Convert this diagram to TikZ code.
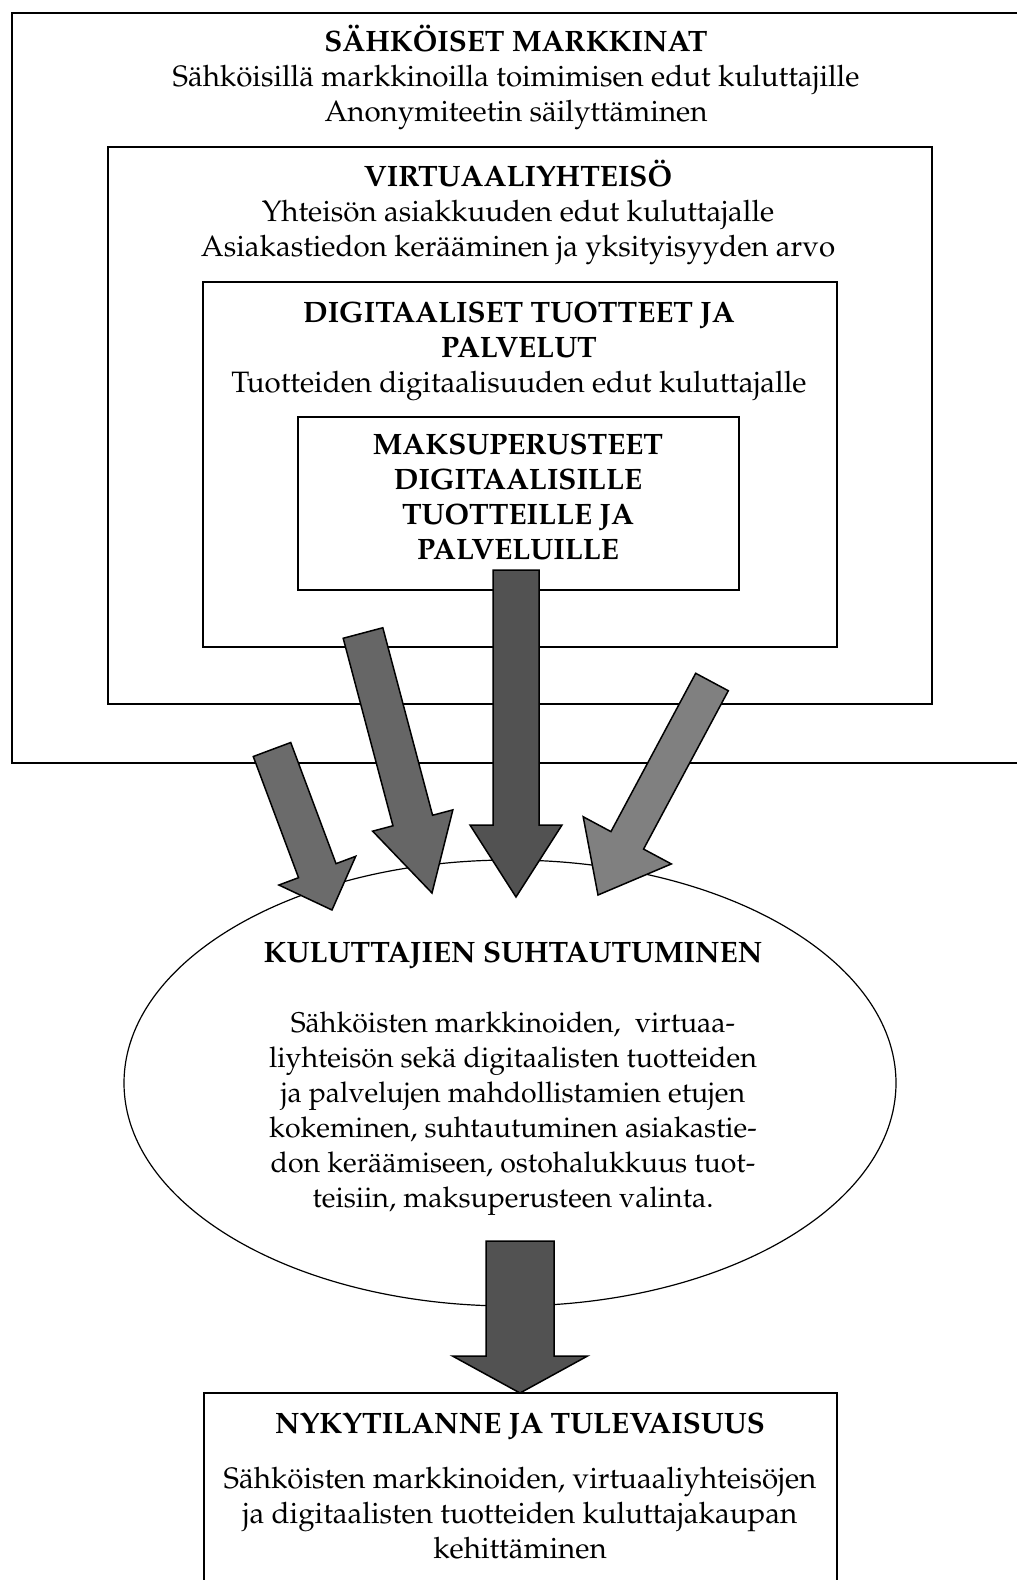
\documentclass[tikz,border=0pt]{standalone}
\usepackage[T1]{fontenc}
\usepackage{mathpazo}
\usetikzlibrary{calc,shapes.geometric}

% block arrow from tail to tip: #1 tail, #2 tip, #3 half shaft, #4 half head, #5 head length, #6 fill
\newcommand{\blockarr}[6]{%
  \coordinate (hb) at ($(#2)!#5!(#1)$);
  \draw[blk,fill=#6] ($(#1)!#3!90:(#2)$) -- ($(hb)!#3!-90:(#1)$) -- ($(hb)!#4!-90:(#1)$)
    -- (#2) -- ($(hb)!#4!90:(#1)$) -- ($(hb)!#3!90:(#1)$) -- ($(#1)!#3!-90:(#2)$) -- cycle;
}

\begin{document}
\begin{tikzpicture}[x=1pt,y=1pt]
\tikzstyle{frame}=[draw,line width=1.7pt,inner sep=0pt]
\tikzstyle{txt}=[inner sep=0pt,align=center,anchor=base,font=\fontsize{29.5}{35}\selectfont]
\tikzstyle{blk}=[draw,line width=1.5pt,line join=miter]
\useasboundingbox (0,0) rectangle (1017,-1580);

% nested boxes
\node[frame,minimum width=1028pt,minimum height=750pt] (markk) at (526,-388) {};
\node[frame,minimum width=824pt,minimum height=557pt] (virt) at (520,-425.5) {};
\node[frame,minimum width=634pt,minimum height=365pt] (digi) at (520,-464.5) {};
\node[frame,minimum width=441pt,minimum height=173pt] (maksu) at (518.5,-503.5) {};

\node[txt] (markkt) at (516,-121) {\textbf{SÄHKÖISET MARKKINAT}\\
  Sähköisillä markkinoilla toimimisen edut kuluttajille\\ Anonymiteetin säilyttäminen};
\node[txt] (virtt) at (518,-256) {\textbf{VIRTUAALIYHTEISÖ}\\
  Yhteisön asiakkuuden edut kuluttajalle\\ Asiakastiedon kerääminen ja yksityisyyden arvo};
\node[txt] (digit) at (519,-392) {\textbf{DIGITAALISET TUOTTEET JA}\\ \textbf{PALVELUT}\\
  Tuotteiden digitaalisuuden edut kuluttajalle};
\node[txt,font=\fontsize{29.5}{35}\selectfont\bfseries] (maksut) at (518,-559) {MAKSUPERUSTEET\\
  DIGITAALISILLE\\ TUOTTEILLE JA\\ PALVELUILLE};

% consumers
\node[draw,ellipse,line width=1.2pt,inner sep=0pt,minimum width=772pt,minimum height=446pt] (suht) at (510,-1083) {};
\node[txt,font=\fontsize{28.5}{35}\selectfont] (suhtt) at (513,-1207) {{\fontsize{29.5}{35}\selectfont\bfseries KULUTTAJIEN SUHTAUTUMINEN}\\[35pt]
  Sähköisten markkinoiden,\ \ virtuaa-\\ liyhteisön sekä digitaalisten tuotteiden\\
  ja palvelujen mahdollistamien etujen\\ kokeminen, suhtautuminen asiakastie-\\
  don keräämiseen, ostohalukkuus tuot-\\ teisiin, maksuperusteen valinta.};

\node[frame,minimum width=633pt,minimum height=210pt] (nyky) at (520.5,-1498) {};
\node[txt] (nykyt) at (520,-1558) {\textbf{NYKYTILANNE JA TULEVAISUUS}\\[20pt]
  Sähköisten markkinoiden, virtuaaliyhteisöjen\\ ja digitaalisten tuotteiden kuluttajakaupan\\
  kehittäminen};

% arrows
\coordinate (a1s) at (272,-749.5);  \coordinate (a1e) at (332,-910);
\coordinate (a2s) at (363,-633);    \coordinate (a2e) at (432,-893);
\coordinate (a3s) at (516,-570);    \coordinate (a3e) at (516,-897);
\coordinate (a4s) at (712,-682);    \coordinate (a4e) at (598,-895);
\coordinate (a5s) at (520,-1241);   \coordinate (a5e) at (520,-1393);

\blockarr{a1s}{a1e}{20pt}{41pt}{42pt}{black!58}
\blockarr{a2s}{a2e}{20.5pt}{41.5pt}{75pt}{black!60}
\blockarr{a3s}{a3e}{23pt}{46pt}{72pt}{black!68}
\blockarr{a4s}{a4e}{18.5pt}{50pt}{62pt}{black!50}
\blockarr{a5s}{a5e}{34pt}{67.5pt}{37pt}{black!68}
\end{tikzpicture}
\end{document}
